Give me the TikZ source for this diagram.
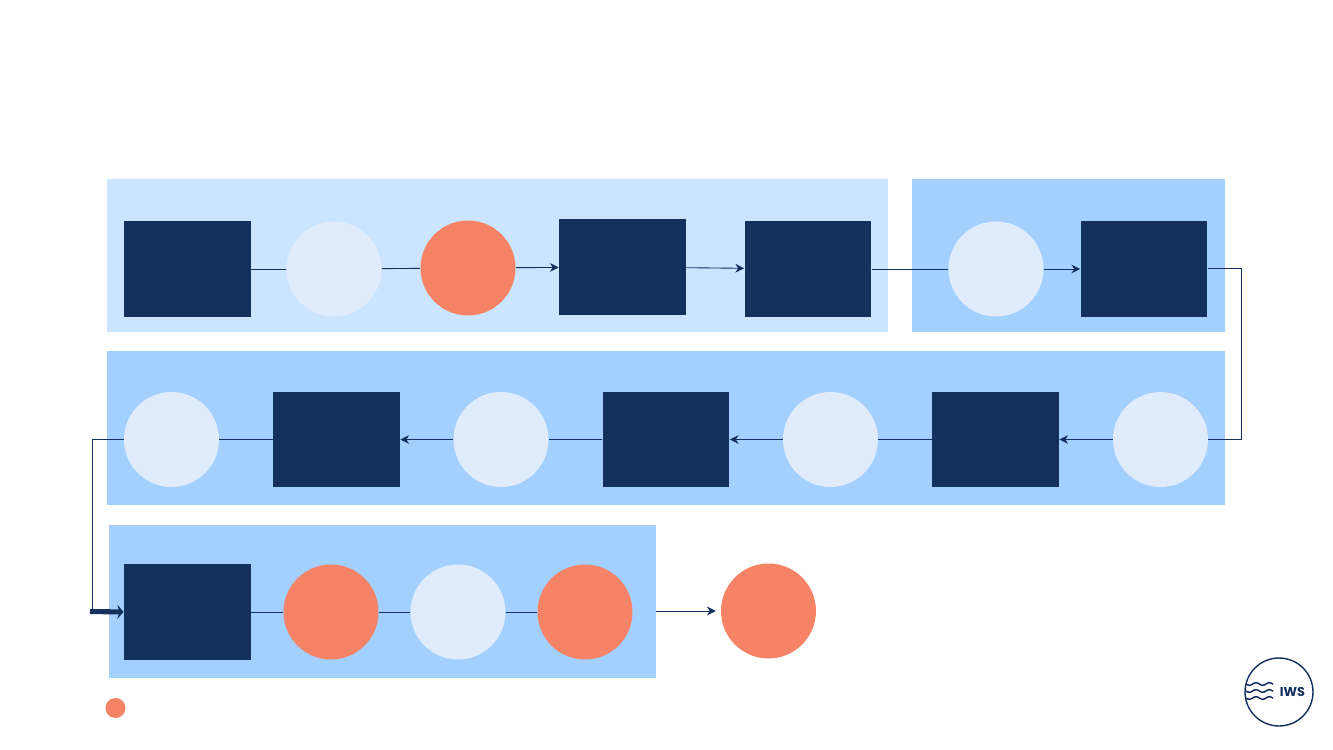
\documentclass[tikz,border=0pt]{standalone}
\usepackage{fontspec}
\setmainfont{Poppins}
\usetikzlibrary{arrows.meta,positioning}
\definecolor{iwsNavy}{RGB}{20,48,92}
\definecolor{iwsCoral}{RGB}{247,131,103}
\definecolor{iwsPale}{RGB}{224,236,252}
\definecolor{iwsBandLight}{RGB}{203,228,255}
\definecolor{iwsBand}{RGB}{163,208,255}

\begin{document}
\begin{tikzpicture}[x=0.02cm,y=-0.02cm,
    band/.style={fill=iwsBand,inner sep=0pt},
    box/.style={rectangle,fill=iwsNavy,minimum width=2.54cm,minimum height=1.92cm,inner sep=0pt},
    pale/.style={circle,fill=iwsPale,minimum size=1.9cm,inner sep=0pt},
    coral/.style={circle,fill=iwsCoral,minimum size=1.9cm,inner sep=0pt},
    link/.style={iwsNavy,line width=0.5pt},
    flow/.style={link,-{Stealth[length=5pt,width=5pt]}}]

    \useasboundingbox (0,0) rectangle (1333,750);

    % Bands
    \node[band,fill=iwsBandLight,minimum width=15.62cm,minimum height=3.06cm] (bandA) at (497.5,255.5) {};
    \node[band,minimum width=6.26cm,minimum height=3.06cm] (bandB) at (1068.5,255.5) {};
    \node[band,minimum width=22.36cm,minimum height=3.08cm] (bandC) at (666,428) {};
    \node[band,minimum width=10.94cm,minimum height=3.06cm] (bandD) at (382.5,601.5) {};

    % Top row
    \node[box] (b1) at (187.5,269) {};
    \node[pale] (c1) at (334,269) {};
    \node[coral] (o1) at (468,268) {};
    \node[box] (b2) at (622.5,267) {};
    \node[box] (b3) at (808,269) {};
    \node[pale] (c2) at (996,269) {};
    \node[box] (b4) at (1144,269) {};

    % Middle row
    \node[pale] (c3) at (1160.5,439.5) {};
    \node[box] (b5) at (995.5,439.5) {};
    \node[pale] (c4) at (830.5,439.5) {};
    \node[box] (b6) at (666,439.5) {};
    \node[pale] (c5) at (501,439.5) {};
    \node[box] (b7) at (336.5,439.5) {};
    \node[pale] (c6) at (171.5,439.5) {};

    % Bottom row
    \node[box] (b8) at (187.5,612) {};
    \node[coral] (o2) at (331,612) {};
    \node[pale] (c7) at (458,612) {};
    \node[coral] (o3) at (585,612) {};
    \node[coral] (o4) at (768.5,611) {};

    % Links
    \foreach \i/\j in {b1/c1,c1/o1,b3/c2,b5/c4,b6/c5,b7/c6,b8/o2,o2/c7,c7/o3} {
      \draw[link] (\i) -- (\j);
    }
    \foreach \i/\j in {o1/b2,b2/b3,c2/b4,c3/b5,c4/b6,c5/b7} {
      \draw[flow] (\i) -- (\j);
    }
    \coordinate (turnR) at (1241.5,268.5);
    \coordinate (turnL) at (92,439.5);
    \coordinate (entry) at (90,611.5);
    \coordinate (exit) at (656,611);
    \draw[link] (b4.east |- turnR) -- (turnR) |- (c3.east);
    \draw[link] (c6.west) -- (turnL) -- (turnL |- entry);
    \draw[iwsNavy,line width=2.9pt,-{Stealth[length=3.6pt,width=8pt]}] (entry) -- (b8.west);
    \draw[flow,shorten >=2.8pt] (exit) -- (o4);

    % Legend dot
    \node[circle,fill=iwsCoral,minimum size=0.4cm,inner sep=0pt] (dot) at (115.5,708) {};

    % Logo
    \node[circle,draw=iwsNavy,line width=0.8pt,minimum size=1.36cm,inner sep=0pt] (logo) at (1279,692) {};
    \foreach \y in {684,691,698} {
      \draw[iwsNavy,line width=0.85pt,smooth,domain=0:27,samples=25,variable=\t]
        plot ({1246+\t},{\y+1.3*sin(\t*27)});
    }
    \node[iwsNavy,font=\fontsize{7.3}{8}\selectfont\bfseries,inner sep=0pt] (iws) at (1292.5,692) {IWS};
\end{tikzpicture}
\end{document}
